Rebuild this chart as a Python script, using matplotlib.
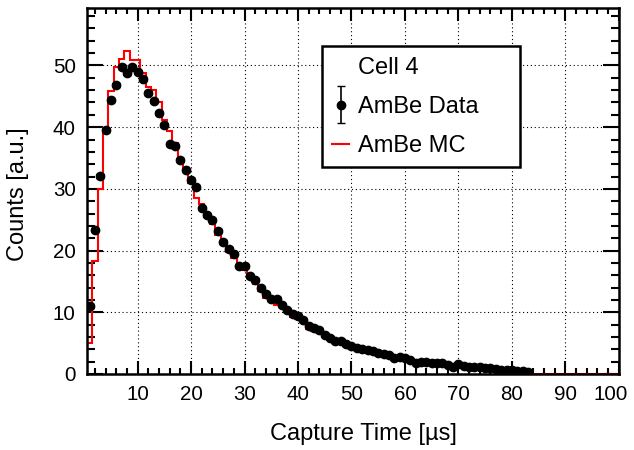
import numpy as np
import matplotlib.pyplot as plt
from matplotlib.ticker import MultipleLocator
from matplotlib.transforms import ScaledTranslation
from matplotlib.legend_handler import HandlerErrorbar

plt.rcParams['font.family'] = ['Liberation Sans', 'DejaVu Sans']

# AmBe data, one point per 1 us bin (bin centres 1..83)
data_x = np.arange(1, 84)
data_y = [11.0, 23.4, 32.1, 39.5, 44.4, 46.8, 49.7, 48.8, 49.7, 48.9,
          47.8, 45.5, 44.3, 42.3, 40.3, 37.3, 36.9, 34.7, 33.0, 31.4,
          30.3, 26.9, 25.7, 24.9, 23.2, 21.4, 20.3, 19.5, 17.5, 17.5,
          15.9, 15.2, 14.0, 13.0, 12.2, 12.2, 11.2, 10.3, 9.7, 9.4,
          8.8, 7.7, 7.4, 7.1, 6.3, 5.9, 5.3, 5.3, 4.8, 4.5,
          4.2, 4.0, 3.9, 3.7, 3.4, 3.3, 3.0, 2.6, 2.7, 2.6,
          2.2, 1.8, 2.0, 2.0, 1.8, 1.7, 1.8, 1.4, 1.2, 1.6,
          1.3, 1.2, 1.1, 1.1, 1.0, 0.9, 0.8, 0.7, 0.6, 0.6,
          0.5, 0.4, 0.3]
data_err = [0.3] * len(data_y)

# AmBe MC histogram, bins of 1 us from 0.5 to 100
mc_y = [5.0, 18.3, 29.9, 39.9, 45.8, 49.8, 51.0, 52.3, 50.9, 50.9,
        48.7, 46.5, 46.1, 44.1, 41.2, 39.3, 37.5, 35.0, 33.2, 31.0,
        28.5, 27.5, 25.5, 24.3, 22.5, 21.0, 19.8, 18.8, 17.6, 16.8,
        15.5, 14.6, 13.5, 12.3, 11.6, 11.2, 10.8, 10.0, 9.3, 8.9,
        8.4, 7.3, 7.0, 6.6, 6.0, 5.6, 5.0, 4.9, 4.6, 4.3,
        4.0, 3.8, 3.7, 3.5, 3.2, 3.1, 2.8, 2.5, 2.5, 2.4,
        2.1, 1.7, 1.9, 1.8, 1.7, 1.6, 1.6, 1.3, 1.1, 1.4,
        1.2, 1.1, 1.0, 1.0, 0.9, 0.8, 0.7, 0.6, 0.5, 0.5,
        0.4, 0.3, 0.2, 0, 0, 0, 0, 0, 0, 0,
        0, 0, 0, 0, 0, 0, 0, 0, 0]
mc_edges = np.arange(0.5, 0.5 + len(mc_y) + 1)
mc_edges[-1] = 100

x_ticks = [10, 20, 30, 40, 50, 60, 70, 80, 90, 100]

fig = plt.figure(figsize=(6.34, 4.5), dpi=100)
ax = fig.add_axes([0.137, 0.169, 0.839, 0.813])

ax.stairs(mc_y, mc_edges, color='red', lw=1.5, zorder=2)
eb = ax.errorbar(data_x, data_y, yerr=data_err, fmt='o', color='black',
                 ms=6, capsize=3, elinewidth=1.2, zorder=3)

ax.set_xlim(0.5, 100)
ax.set_ylim(0, 59.3)
ax.set_xticks(x_ticks)
ax.xaxis.set_minor_locator(MultipleLocator(2))
ax.yaxis.set_major_locator(MultipleLocator(10))
ax.yaxis.set_minor_locator(MultipleLocator(2))
ax.grid(True, which='major', color='black', ls=(0, (1, 2.5)), lw=0.8)

ax.tick_params(axis='x', which='major', direction='in', length=9.5, width=1.5,
               top=True, labelsize=14.8, pad=8)
ax.tick_params(axis='x', which='minor', direction='in', length=4.5, width=1.5, top=True)
ax.tick_params(axis='y', which='major', direction='in', length=11.5, width=1.5,
               right=True, labelsize=14.8, pad=8)
ax.tick_params(axis='y', which='minor', direction='in', length=5.5, width=1.5, right=True)
for s in ax.spines.values():
    s.set_linewidth(1.8)

# nudge the last x label ("100") left so it stays inside the figure
lab = ax.xaxis.get_major_ticks()[len(x_ticks) - 1].label1
lab.set_transform(lab.get_transform() + ScaledTranslation(-6 / 72, 0, fig.dpi_scale_trans))

ax.set_xlabel('Capture Time [µs]', fontsize=17)
ax.xaxis.set_label_coords(0.52, -0.135)
ax.set_ylabel('Counts [a.u.]', fontsize=17)
ax.yaxis.set_label_coords(-0.108, 0.49)

# legend with header line
header, = ax.plot([], [], ' ')
mc_handle, = ax.plot([], [], color='red', lw=1.5)
leg = ax.legend([header, eb, mc_handle], ['Cell 4', 'AmBe Data', 'AmBe MC'],
                handler_map={type(eb): HandlerErrorbar(yerr_size=0.8)},
                loc='upper left', bbox_to_anchor=(0.4417, 0.5, 0.372, 0.396),
                mode='expand', fontsize=17,
                frameon=True, fancybox=False, edgecolor='black', framealpha=1,
                borderpad=0.45, labelspacing=0.72, handlelength=0.7,
                handletextpad=0.4, borderaxespad=0)
leg.get_frame().set_linewidth(1.8)

fig.savefig('out.png', dpi=100)
